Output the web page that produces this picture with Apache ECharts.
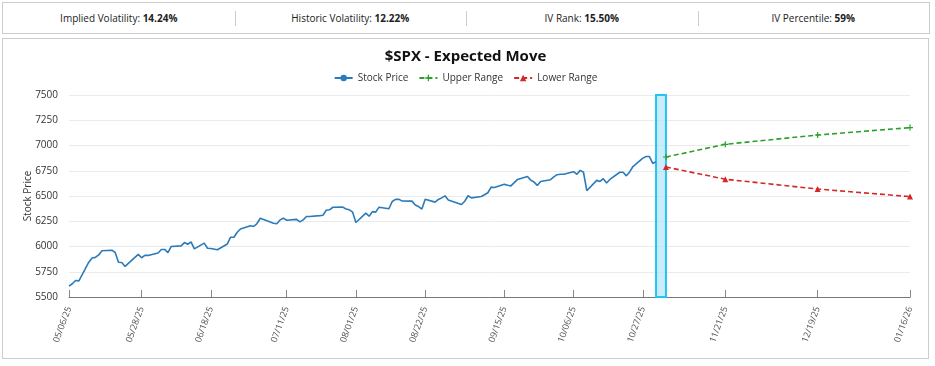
<!DOCTYPE html>
<html>
<head>
<meta charset="utf-8">
<script src="https://cdn.jsdelivr.net/npm/echarts@6/dist/echarts.min.js"></script>
<style>
  html, body { margin: 0; padding: 0; background: #fff; width: 935px; height: 366px; overflow: hidden; font-family: "Open Sans", sans-serif; }
  #hdr { position: absolute; left: 2px; top: 2px; width: 926px; height: 30px; border: 1px solid #ccc; display: flex; }
  #hdr .cell { flex: 1; display: flex; align-items: center; justify-content: center; font-size: 10px; color: #222; position: relative; }
  #hdr .cell + .cell::before { content: ""; position: absolute; left: 0; top: 8px; height: 15px; border-left: 1px solid #ccc; }
  #hdr b { font-weight: 700; }
  #box { position: absolute; left: 2px; top: 38px; width: 925px; height: 319px; border: 1px solid #ccc; }
  #chart { width: 925px; height: 319px; }
</style>
</head>
<body>
<div id="hdr">
  <div class="cell"><span>Implied Volatility:&nbsp;<b>14.24%</b></span></div>
  <div class="cell"><span>Historic Volatility:&nbsp;<b>12.22%</b></span></div>
  <div class="cell"><span>IV Rank:&nbsp;<b>15.50%</b></span></div>
  <div class="cell"><span>IV Percentile:&nbsp;<b>59%</b></span></div>
</div>
<div id="box"><div id="chart"></div></div>
<script>
const stockDates = [
  "2025-05-06","2025-05-07","2025-05-08","2025-05-09","2025-05-12","2025-05-13","2025-05-14","2025-05-15","2025-05-16","2025-05-19","2025-05-20","2025-05-21","2025-05-22","2025-05-23","2025-05-27","2025-05-28","2025-05-29","2025-05-30",
  "2025-06-02","2025-06-03","2025-06-04","2025-06-05","2025-06-06","2025-06-09","2025-06-10","2025-06-11","2025-06-12","2025-06-13","2025-06-16","2025-06-17","2025-06-18","2025-06-20","2025-06-23","2025-06-24","2025-06-25","2025-06-26","2025-06-27","2025-06-30",
  "2025-07-01","2025-07-02","2025-07-03","2025-07-07","2025-07-08","2025-07-09","2025-07-10","2025-07-11","2025-07-14","2025-07-15","2025-07-16","2025-07-17","2025-07-18","2025-07-21","2025-07-22","2025-07-23","2025-07-24","2025-07-25","2025-07-28","2025-07-29","2025-07-30","2025-07-31",
  "2025-08-01","2025-08-04","2025-08-05","2025-08-06","2025-08-07","2025-08-08","2025-08-11","2025-08-12","2025-08-13","2025-08-14","2025-08-15","2025-08-18","2025-08-19","2025-08-20","2025-08-21","2025-08-22","2025-08-25","2025-08-26","2025-08-27","2025-08-28","2025-08-29",
  "2025-09-02","2025-09-03","2025-09-04","2025-09-05","2025-09-08","2025-09-09","2025-09-10","2025-09-11","2025-09-12","2025-09-15","2025-09-16","2025-09-17","2025-09-18","2025-09-19","2025-09-22","2025-09-23","2025-09-24","2025-09-25","2025-09-26","2025-09-29","2025-09-30",
  "2025-10-01","2025-10-02","2025-10-03","2025-10-06","2025-10-07","2025-10-08","2025-10-09","2025-10-10","2025-10-13","2025-10-14","2025-10-15","2025-10-16","2025-10-17","2025-10-20","2025-10-21","2025-10-22","2025-10-23","2025-10-24","2025-10-27","2025-10-28","2025-10-29","2025-10-30","2025-10-31"
];
const stockPrice = [
  5606.91,5631.28,5663.94,5659.91,5844.19,5886.55,5892.58,5916.93,5958.38,5963.60,5940.46,5844.61,5842.01,5802.82,5921.54,5888.55,5912.17,5911.69,
  5935.94,5970.37,5970.81,5939.30,6000.36,6005.88,6038.81,6022.24,6045.26,5976.97,6033.11,5982.72,5980.87,5967.84,6025.17,6092.18,6092.16,6141.02,6173.07,6204.95,
  6198.01,6227.42,6279.35,6229.98,6225.52,6263.26,6280.46,6259.75,6268.56,6243.76,6263.70,6297.36,6296.79,6305.60,6309.62,6358.91,6363.35,6388.64,6389.77,6370.86,6362.90,6339.39,
  6238.01,6329.94,6299.19,6345.06,6340.00,6389.45,6373.45,6445.76,6466.58,6468.54,6449.80,6449.15,6411.37,6395.78,6370.17,6466.91,6439.32,6465.94,6481.40,6501.86,6460.26,
  6415.54,6448.26,6502.08,6481.50,6495.15,6512.61,6532.04,6587.47,6584.29,6615.28,6606.76,6600.35,6631.96,6664.36,6693.75,6656.92,6637.97,6604.72,6643.70,6661.21,6688.46,
  6711.20,6715.35,6715.79,6740.28,6714.59,6753.72,6735.11,6552.51,6654.72,6644.31,6671.06,6629.07,6664.01,6735.13,6735.35,6699.40,6738.44,6791.69,6875.16,6890.89,6890.59,6822.34,6840.20
];
const rangeDates = ["2025-11-03","2025-11-21","2025-12-19","2026-01-16"];
const upperRange = [6886, 7012, 7104, 7177];
const lowerRange = [6787, 6666, 6569, 6494];
const tickDates = ["2025-05-06","2025-05-28","2025-06-18","2025-07-11","2025-08-01","2025-08-22","2025-09-15","2025-10-06","2025-10-27","2025-11-21","2025-12-19","2026-01-16"];
const highlightDates = ["2025-10-31","2025-11-03"];
const yTicks = [5500, 7500, 250];

function ts(s) { const p = s.split("-").map(Number); return Date.UTC(p[0], p[1]-1, p[2]); }
function fmt(v) {
  const d = new Date(v);
  const mm = String(d.getUTCMonth()+1).padStart(2,"0");
  const dd = String(d.getUTCDate()).padStart(2,"0");
  const yy = String(d.getUTCFullYear()).slice(2);
  return mm + "/" + dd + "/" + yy;
}
const tickTs = tickDates.map(ts);

const chart = echarts.init(document.getElementById("chart"), null, { renderer: "canvas" });
const FONT = "Open Sans";
chart.setOption({
  animation: false,
  title: {
    text: "$SPX - Expected Move", left: "center", top: 5,
    textStyle: { fontFamily: FONT, fontSize: 15, fontWeight: "bold", color: "#111" }
  },
  legend: {
    top: 29, left: "center", itemWidth: 18, itemHeight: 8, itemGap: 10,
    textStyle: { fontFamily: FONT, fontSize: 10, color: "#333" },
    data: ["Stock Price", "Upper Range", "Lower Range"]
  },
  grid: { left: 66, right: 18, top: 56, bottom: 61, containLabel: false },
  xAxis: {
    type: "value",
    min: tickTs[0], max: tickTs[tickTs.length-1],
    axisLine: { show: true, lineStyle: { color: "#777", width: 1 } },
    axisTick: { show: true, inside: true, length: 7, lineStyle: { color: "#888" }, customValues: tickTs },
    axisLabel: { customValues: tickTs, rotate: 70, fontFamily: FONT, fontSize: 9, color: "#555", margin: 10, formatter: fmt },
    splitLine: { show: false }
  },
  yAxis: {
    type: "value", min: yTicks[0], max: yTicks[1], interval: yTicks[2],
    name: "Stock Price", nameLocation: "middle", nameRotate: 90, nameGap: 36, nameMoveOverlap: false,
    nameTextStyle: { fontFamily: FONT, fontSize: 10, color: "#333" },
    axisLine: { show: false }, axisTick: { show: false },
    axisLabel: { fontFamily: FONT, fontSize: 10, color: "#333", margin: 11, formatter: v => String(v) },
    splitLine: { lineStyle: { color: "#ebebeb", width: 1 } }
  },
  series: [
    {
      name: "Stock Price", type: "line", symbol: "circle", symbolSize: 6, showSymbol: false,
      itemStyle: { color: "#2b7bba" }, lineStyle: { color: "#2b7bba", width: 1.6 },
      data: stockDates.map((d, i) => [ts(d), stockPrice[i]]),
      markArea: {
        silent: true,
        itemStyle: { color: "rgba(173,226,250,0.65)", borderColor: "#22c4f2", borderWidth: 2 },
        data: [[{ xAxis: ts(highlightDates[0]), yAxis: yTicks[1] }, { xAxis: ts(highlightDates[1]), yAxis: yTicks[0] }]]
      },
      z: 3
    },
    {
      name: "Upper Range", type: "line",
      symbol: "path://M4,0H6V4H10V6H6V10H4V6H0V4H4Z", symbolSize: 6,
      itemStyle: { color: "#2ca02c" }, lineStyle: { color: "#2ca02c", width: 1.6, type: [5, 3] },
      data: rangeDates.map((d, i) => [ts(d), upperRange[i]]), z: 4
    },
    {
      name: "Lower Range", type: "line",
      symbol: "triangle", symbolSize: 6,
      itemStyle: { color: "#d62728" }, lineStyle: { color: "#d62728", width: 1.6, type: [5, 3] },
      data: rangeDates.map((d, i) => [ts(d), lowerRange[i]]), z: 4
    }
  ]
});
</script>
</body>
</html>
